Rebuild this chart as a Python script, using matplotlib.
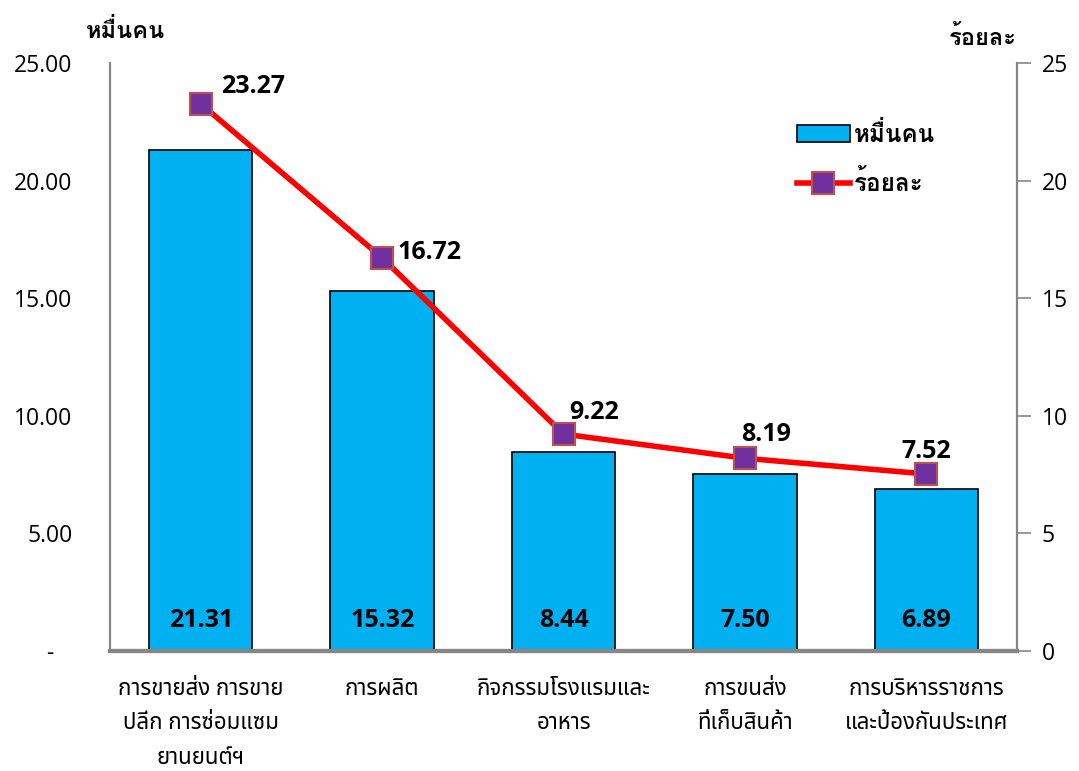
import matplotlib
matplotlib.use("Agg")
import matplotlib.pyplot as plt
import numpy as np

plt.rcParams['font.family'] = ['Open Sans', 'Noto Sans Thai', 'Loma', 'DejaVu Sans']
bold_thai = ['Open Sans', 'Loma', 'DejaVu Sans']

categories = ['การขายส่ง การขาย\nปลีก การซ่อมแซม\nยานยนต์ฯ', 'การผลิต',
              'กิจกรรมโรงแรมและ\nอาหาร', 'การขนส่ง\nที่เก็บสินค้า',
              'การบริหารราชการ\nและป้องกันประเทศ']
workers = [21.31, 15.32, 8.44, 7.50, 6.89]     # หมื่นคน
percent = [23.27, 16.72, 9.22, 8.19, 7.52]     # ร้อยละ

# label offsets in pixels (manual placement like the original)
pct_offsets = [(52, 17), (47, 5), (31, 22), (21, 24), (0, 23)]

x = np.arange(len(categories))
grey = '#868686'

fig = plt.figure(figsize=(10.79, 7.71), dpi=100)
ax = fig.add_axes([0.102, 0.156, 0.8405, 0.762])
ax2 = ax.twinx()

bars = ax.bar(x, workers, width=0.57, color='#00B0F0', edgecolor='black',
              linewidth=1.2, label='หมื่นคน', zorder=2)
ax.set_xlim(-0.5, len(categories) - 0.5)
ax.set_ylim(0, 25)
ax.set_yticks(np.arange(0, 26, 5))
ax.set_yticklabels(['-'] + ['%.2f' % v for v in np.arange(5, 26, 5)])
ax.tick_params(axis='y', length=0, pad=27, labelsize=16.5)
ax.tick_params(axis='x', length=0, pad=20, labelsize=16)
ax.set_xticks(x)
ax.set_xticklabels(categories, linespacing=1.85)
for t in ax.get_yticklabels():
    t.set_horizontalalignment('right')
# accounting style dash sits further left
ax.get_yticklabels()[0].set_horizontalalignment('center')
ax.get_yticklabels()[0].set_x(-0.025)

for b, v in zip(bars, workers):
    ax.text(b.get_x() + b.get_width() / 2, 1.3, '%.2f' % v, ha='center', va='center',
            fontsize=18, fontweight='bold', zorder=3)

ax2.plot(x, percent, color='#FF0000', linewidth=4, marker='s', markersize=16,
         markerfacecolor='#7030A0', markeredgecolor='#C0504D', markeredgewidth=1.5,
         label='ร้อยละ', zorder=4)
ax2.set_ylim(0, 25)
ax2.set_yticks(np.arange(0, 26, 5))
ax2.tick_params(axis='y', length=10, width=1.2, color=grey, pad=8, labelsize=16.5)

for xi, v, (dx, dy) in zip(x, percent, pct_offsets):
    ax2.annotate('%.2f' % v, (xi, v), xytext=(dx * 0.72, dy * 0.72),
                 textcoords='offset points', ha='center', va='center',
                 fontsize=18, fontweight='bold')

for a in (ax, ax2):
    a.spines['top'].set_visible(False)
    a.spines['left'].set_color(grey)
    a.spines['right'].set_color(grey)
    a.spines['bottom'].set_color(grey)
    a.spines['left'].set_linewidth(1.5)
    a.spines['right'].set_linewidth(1.5)
    a.spines['bottom'].set_linewidth(3)

fig.text(0.116, 0.958, 'หมื่นคน', ha='center', va='center', fontsize=17,
         fontweight='bold', family=bold_thai)
fig.text(0.911, 0.950, 'ร้อยละ', ha='center', va='center', fontsize=17,
         fontweight='bold', family=bold_thai)

h1, l1 = ax.get_legend_handles_labels()
h2, l2 = ax2.get_legend_handles_labels()
leg = ax.legend(h1 + h2, l1 + l2, loc='upper left', bbox_to_anchor=(0.733, 0.935),
                frameon=False, prop={'size': 17.5, 'weight': 'bold', 'family': bold_thai},
                handlelength=2.2, handletextpad=0.15, labelspacing=0.95)

fig.savefig('out.png')
